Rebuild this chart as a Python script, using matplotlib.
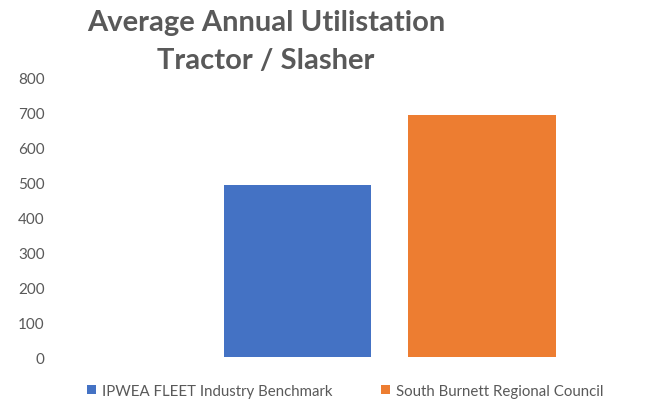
import matplotlib
matplotlib.use("Agg")
import matplotlib.pyplot as plt

title_lines = ["Average Annual Utilistation", "Tractor / Slasher"]
series = ["IPWEA FLEET Industry Benchmark", "South Burnett Regional Council"]
values = [493, 693]
colors = ["#4472C4", "#ED7D31"]
yticks = [0, 100, 200, 300, 400, 500, 600, 700, 800]

plt.rcParams['font.family'] = ['Lato', 'DejaVu Sans']
W, H = 663, 402
fig = plt.figure(figsize=(W / 100, H / 100), dpi=100)
# axes in pixel coordinates
left, right, bottom, top = 60, 663, 358, 79
ax = fig.add_axes([left / W, 1 - bottom / H, (right - left) / W, (bottom - top) / H])

for i, (s, v, c) in enumerate(zip(series, values, colors)):
    ax.bar(i, v, width=0.8, color=c, label=s)

ax.set_ylim(0, 800)
ax.set_xlim(-1.287, 1.981)
ax.set_yticks(yticks)
ax.set_yticklabels([str(t) for t in yticks], color="#595959", fontsize=11)
ax.set_xticks([])
ax.tick_params(axis='y', length=0, pad=11)
for sp in ax.spines.values():
    sp.set_visible(False)

for k, (line, base) in enumerate(zip(title_lines, [31, 69])):
    fig.text(266 / W, 1 - base / H, line, ha="center", va="baseline", fontsize=21,
             fontweight="bold", color="#595959")

leg = fig.legend(loc="center", bbox_to_anchor=(345 / W, 1 - 392 / H), ncol=2,
                 frameon=False, fontsize=10.8, handlelength=0.6, handleheight=0.6,
                 columnspacing=3.2, handletextpad=0.4, labelcolor="#595959")

fig.savefig("out.png", dpi=100)
